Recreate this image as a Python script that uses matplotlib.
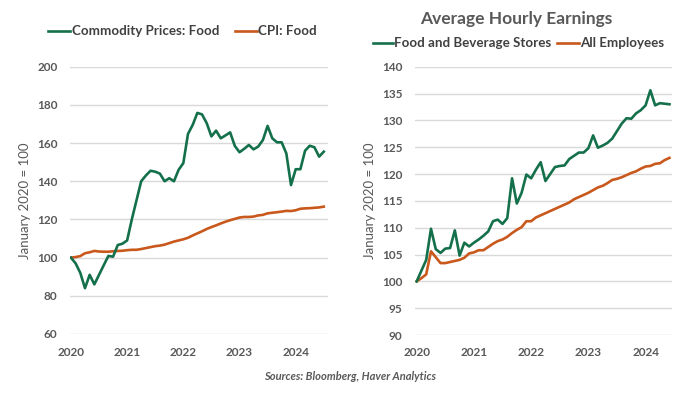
import matplotlib
matplotlib.use("Agg")
import matplotlib.pyplot as plt
from matplotlib.lines import Line2D

plt.rcParams['font.family'] = ['Lato', 'DejaVu Sans']

# ---- Data (monthly, Jan 2020 = 100) ----
commodity_food = [100, 97, 92, 84, 91, 86, 91, 96, 100.9, 100.5,
                  106.6, 107.3, 109, 120, 130, 140, 143, 145.5, 145, 144,
                  140, 141.6, 140, 146, 149.5, 164.8, 169.5, 175.8, 175, 170.4,
                  163.5, 166.5, 162.5, 164, 165.6, 158.5, 155.2, 157, 159, 156.7,
                  158.2, 161.6, 169, 162.5, 160.4, 160.4, 154.6, 138, 146.3, 146.3,
                  156, 158.6, 157.8, 152.9, 155.5]
cpi_food = [100, 100.3, 100.8, 102.3, 102.8, 103.5, 103.2, 103.1, 103.1, 103.3,
            103.5, 103.6, 103.9, 104.1, 104.1, 104.5, 105, 105.5, 106, 106.3,
            106.8, 107.6, 108.4, 109, 109.6, 110.4, 111.6, 112.7, 113.8, 115,
            116, 116.9, 117.9, 118.8, 119.6, 120.3, 121, 121.3, 121.3, 121.5,
            122.1, 122.4, 123.2, 123.5, 123.8, 124.1, 124.5, 124.4, 124.8, 125.6,
            125.8, 125.9, 126.1, 126.3, 126.7]

food_bev_stores = [100, 102, 104, 109.8, 106.0, 105.3, 106.1, 106.2, 109.5, 104.8,
                   107.2, 106.5, 107.2, 107.8, 108.5, 109.3, 111.2, 111.5, 110.7, 111.8,
                   119.2, 114.5, 116.5, 119.9, 119.2, 120.8, 122.2, 118.7, 120.0, 121.3,
                   121.5, 121.6, 122.8, 123.4, 124.0, 124.0, 124.8, 127.2, 124.9, 125.3,
                   125.8, 126.6, 128.0, 129.4, 130.4, 130.3, 131.3, 131.9, 132.8, 135.6,
                   132.8, 133.2, 133.1, 133.0]
all_employees = [100, 100.6, 101.3, 105.6, 104.5, 103.4, 103.4, 103.6, 103.8, 104.0,
                 104.4, 105.2, 105.4, 105.8, 105.8, 106.4, 107.0, 107.5, 107.8, 108.3,
                 109.0, 109.6, 110.1, 111.2, 111.2, 111.9, 112.3, 112.7, 113.1, 113.5,
                 113.9, 114.3, 114.7, 115.3, 115.7, 116.1, 116.5, 117.0, 117.5, 117.8,
                 118.3, 118.9, 119.1, 119.4, 119.8, 120.2, 120.5, 121.0, 121.4, 121.5,
                 121.9, 122.0, 122.6, 123.0]

year_labels = ["2020", "2021", "2022", "2023", "2024"]
year_pos = [0, 12, 24, 36, 48]

GREEN = '#14704a'
ORANGE = '#c9581c'
TXT = '#595959'
GRID = '#d9d9d9'

W, H = 700, 396
fig = plt.figure(figsize=(7, 3.96), dpi=100)

def px_axes(l, t, r, b):
    return fig.add_axes([l / W, 1 - b / H, (r - l) / W, (b - t) / H])

def style(ax, ylim, yticks, xlim):
    ax.set_xlim(*xlim)
    ax.set_ylim(*ylim)
    ax.set_yticks(yticks)
    ax.set_yticklabels([str(v) for v in yticks])
    ax.set_xticks(year_pos)
    ax.set_xticklabels(year_labels)
    for s in ax.spines.values():
        s.set_visible(False)
    ax.grid(axis='y', color=GRID, lw=1.0)
    ax.set_axisbelow(True)
    ax.tick_params(length=0, labelsize=8.5, labelcolor=TXT, pad=9)
    for lab in ax.get_xticklabels() + ax.get_yticklabels():
        lab.set_fontweight('bold')
    ax.set_ylabel("January 2020 = 100", fontsize=9.5, color=TXT, labelpad=4)

# Left chart
ax1 = px_axes(70, 66.7, 328, 334)
m1 = list(range(len(commodity_food)))
ax1.plot(m1, cpi_food, color=ORANGE, lw=1.9, solid_joinstyle='round')
ax1.plot(m1, commodity_food, color=GREEN, lw=1.9, solid_joinstyle='round')
style(ax1, (60, 200), list(range(60, 201, 20)), (-0.2, 54.9))

# Right chart
ax2 = px_axes(415, 66.7, 672.3, 335)
m2 = list(range(len(food_bev_stores)))
ax2.plot(m2, all_employees, color=ORANGE, lw=1.9, solid_joinstyle='round')
ax2.plot(m2, food_bev_stores, color=GREEN, lw=1.9, solid_joinstyle='round')
style(ax2, (90, 140), list(range(90, 141, 5)), (-0.35, 53.6))

# Legends (drawn as lines + text in figure pixel coordinates)
def legend_item(x0, x1, y, color, label):
    fig.add_artist(Line2D([x0 / W, x1 / W], [1 - y / H, 1 - y / H],
                          color=color, lw=1.9, transform=fig.transFigure))
    fig.text((x1 + 1.5) / W, 1 - y / H, label, ha='left', va='center',
             fontsize=9.6, color='#404040', fontweight='bold')

legend_item(48, 70, 31, GREEN, "Commodity Prices: Food")
legend_item(235, 257, 31, ORANGE, "CPI: Food")
legend_item(373, 393, 43, GREEN, "Food and Beverage Stores")
legend_item(557, 579, 43, ORANGE, "All Employees")

fig.text(516 / W, 1 - 19 / H, "Average Hourly Earnings", ha='center', va='center',
         fontsize=12.5, color=TXT, fontweight='bold')

fig.text(350 / W, 1 - 377 / H, "Sources: Bloomberg, Haver Analytics", ha='center',
         va='center', fontsize=8, color=TXT, style='italic', fontweight='bold')

fig.savefig("out.png", dpi=100)
